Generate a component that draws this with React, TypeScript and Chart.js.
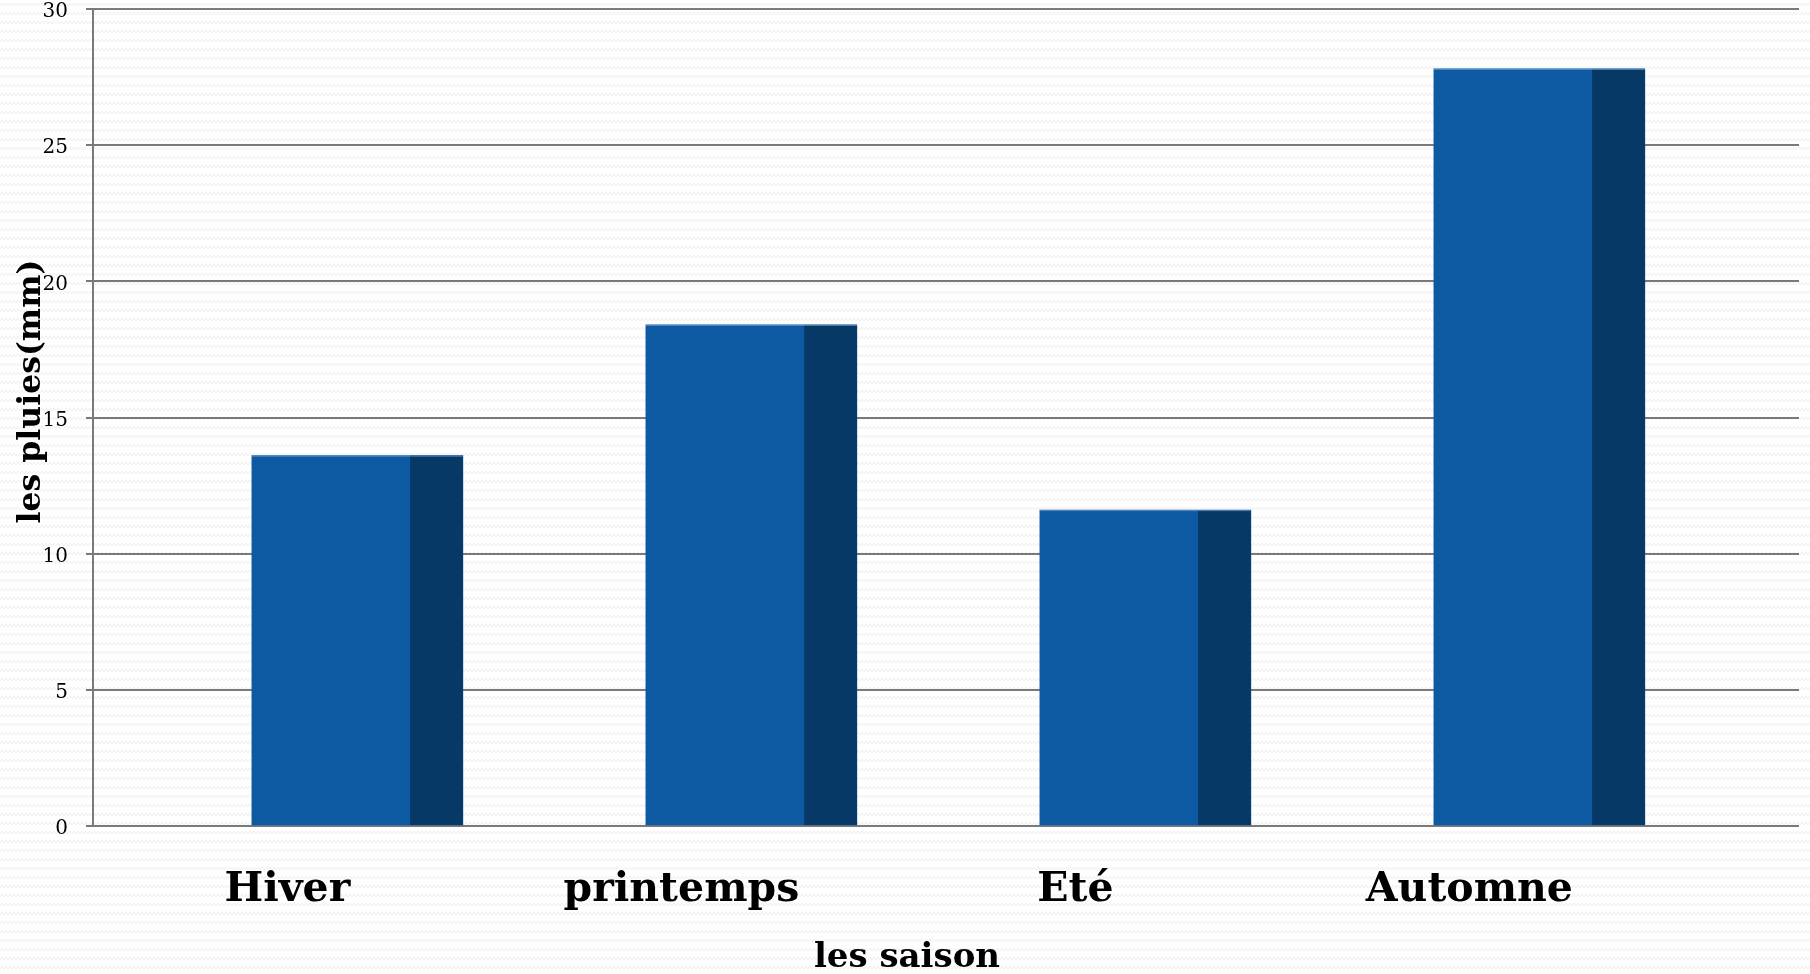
import React, { useEffect, useRef } from 'react';
import { Chart, registerables } from 'chart.js';

Chart.register(...registerables);

// ---- data ----
const seasons: string[] = ['Hiver', 'printemps', 'Eté', 'Automne'];
const rainfall: number[] = [13.6, 18.4, 11.6, 27.8];
const yMin = 0;
const yMax = 30;
const yStep = 5;
const xTitle = 'les saison';
const yTitle = 'les pluies(mm)';

// ---- style ----
const FRONT = '#0D5AA3';
const SIDE = '#073966';
const GRID = '#7a7a7a';
const FONT = "'DejaVu Serif', 'Liberation Serif', serif";

const bgPlugin = {
  id: 'bgPattern',
  beforeDraw(chart: any) {
    const { ctx, width, height } = chart;
    const tile = document.createElement('canvas');
    tile.width = 8;
    tile.height = 9;
    const t = tile.getContext('2d')!;
    t.fillStyle = '#ffffff';
    t.fillRect(0, 0, 8, 9);
    t.strokeStyle = '#efefef';
    t.lineWidth = 1;
    t.beginPath();
    t.moveTo(0, 6);
    t.lineTo(2, 3);
    t.lineTo(4, 6);
    t.lineTo(6, 3);
    t.lineTo(8, 6);
    t.stroke();
    const pat = ctx.createPattern(tile, 'repeat');
    ctx.save();
    ctx.fillStyle = pat || '#fafafa';
    ctx.fillRect(0, 0, width, height);
    ctx.restore();
  },
};

const sidePlugin = {
  id: 'barSide',
  afterDatasetsDraw(chart: any) {
    const { ctx } = chart;
    const meta = chart.getDatasetMeta(0);
    ctx.save();
    meta.data.forEach((el: any) => {
      const { x, y, base, width } = el.getProps(['x', 'y', 'base', 'width'], true);
      const sideW = width * 0.25;
      ctx.fillStyle = SIDE;
      ctx.fillRect(x + width / 2 - sideW, y, sideW, base - y);
      ctx.fillStyle = 'rgba(120,160,210,0.7)';
      ctx.fillRect(x - width / 2, y, width, 1);
    });
    ctx.restore();
  },
};

const titlePlugin = {
  id: 'axisTitles',
  afterDraw(chart: any) {
    const { ctx, chartArea } = chart;
    ctx.save();
    ctx.fillStyle = '#000';
    ctx.font = `bold 34px ${FONT}`;
    ctx.textAlign = 'center';
    ctx.textBaseline = 'alphabetic';
    ctx.fillText(xTitle, (chartArea.left + chartArea.right) / 2 - 39, chart.height - 7);
    ctx.translate(40, (chartArea.top + chartArea.bottom) / 2 - 26);
    ctx.rotate(-Math.PI / 2);
    ctx.font = `bold 31.5px ${FONT}`;
    ctx.fillText(yTitle, 0, 0);
    ctx.restore();
  },
};

export default function App() {
  const ref = useRef<HTMLCanvasElement | null>(null);

  useEffect(() => {
    if (!ref.current) return;
    const chart = new Chart(ref.current, {
      type: 'bar',
      data: {
        datasets: [
          {
            data: seasons.map((_, i) => ({ x: i, y: rainfall[i] })) as any,
            backgroundColor: FRONT,
            borderWidth: 0,
            barThickness: 211,
          },
        ],
      },
      options: {
        animation: false,
        responsive: true,
        maintainAspectRatio: false,
        layout: { padding: { top: 9, right: 11, left: 0, bottom: 0 } },
        plugins: {
          legend: { display: false },
          tooltip: { enabled: false },
        },
        scales: {
          x: {
            type: 'linear',
            offset: false,
            min: -0.671,
            max: 3.659,
            grid: { display: false, drawTicks: false, offset: false },
            border: { display: false },
            ticks: {
              stepSize: 1,
              includeBounds: false,
              autoSkip: false,
              maxRotation: 0,
              minRotation: 0,
              labelOffset: -70,
              padding: 40,
              color: '#000',
              font: { family: FONT, weight: 'bold', size: 41 },
              callback: (v: any) => (Number.isInteger(v) && seasons[v] !== undefined ? seasons[v] : ''),
            },
            afterFit: (s: any) => {
              s.height = 148;
              s.paddingLeft = 0;
              s.paddingRight = 0;
            },
          } as any,
          y: {
            min: yMin,
            max: yMax,
            grid: { color: GRID, lineWidth: 2, tickLength: 7, drawTicks: true },
            border: { color: GRID, width: 2 },
            ticks: {
              stepSize: yStep,
              padding: 18,
              labelOffset: 3,
              color: '#000',
              font: { family: FONT, size: 20, lineHeight: 1 },
            },
            afterFit: (s: any) => {
              s.width = 93;
              s.paddingTop = 0;
              s.paddingBottom = 0;
            },
          } as any,
        },
      },
      plugins: [bgPlugin, sidePlugin, titlePlugin],
    });
    return () => chart.destroy();
  }, []);

  return (
    <div style={{ position: 'fixed', left: 0, top: 0, width: 1810, height: 974 }}>
      <canvas ref={ref} />
    </div>
  );
}
